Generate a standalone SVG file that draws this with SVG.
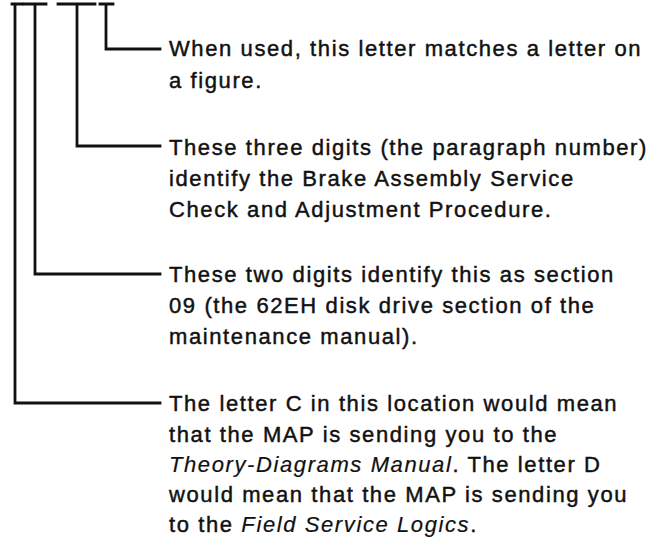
<svg xmlns="http://www.w3.org/2000/svg" width="662" height="544" viewBox="0 0 662 544">
<style>
.c{fill:none;stroke:#111;stroke-width:2.8;stroke-linecap:square}
.t{font-family:"Liberation Sans",Arial,sans-serif;font-size:22px;fill:#111;stroke:#111;stroke-width:0.45px;letter-spacing:1.6px}
.i{font-style:italic;stroke-width:0.2px}
</style>
<rect width="662" height="544" fill="#fff"/>
<g id="connectors">
<path class="c" d="M12 4H22M15 4V403H160"/>
<path class="c" d="M24 4H46M35 4V274H160"/>
<path class="c" d="M58 4H95M77 4V146H160"/>
<path class="c" d="M100 4H113M106 4V49H160"/>
</g>
<g id="note-letter">
<text class="t" x="169" y="56">When used, this letter matches a letter on</text>
<text class="t" x="169" y="88">a figure.</text>
</g>
<g id="note-paragraph">
<text class="t" x="169" y="155">These three digits (the paragraph number)</text>
<text class="t" x="169" y="186">identify the Brake Assembly Service</text>
<text class="t" x="169" y="217">Check and Adjustment Procedure.</text>
</g>
<g id="note-section">
<text class="t" x="169" y="282">These two digits identify this as section</text>
<text class="t" x="169" y="313">09 (the 62EH disk drive section of the</text>
<text class="t" x="169" y="344">maintenance manual).</text>
</g>
<g id="note-manual">
<text class="t" x="169" y="411">The letter C in this location would mean</text>
<text class="t" x="169" y="442">that the MAP is sending you to the</text>
<text class="t" x="169" y="472"><tspan class="i">Theory-Diagrams Manual</tspan>.  The letter D</text>
<text class="t" x="169" y="502">would mean that the MAP is sending you</text>
<text class="t" x="169" y="532">to the <tspan class="i">Field Service Logics</tspan>.</text>
</g>
</svg>
